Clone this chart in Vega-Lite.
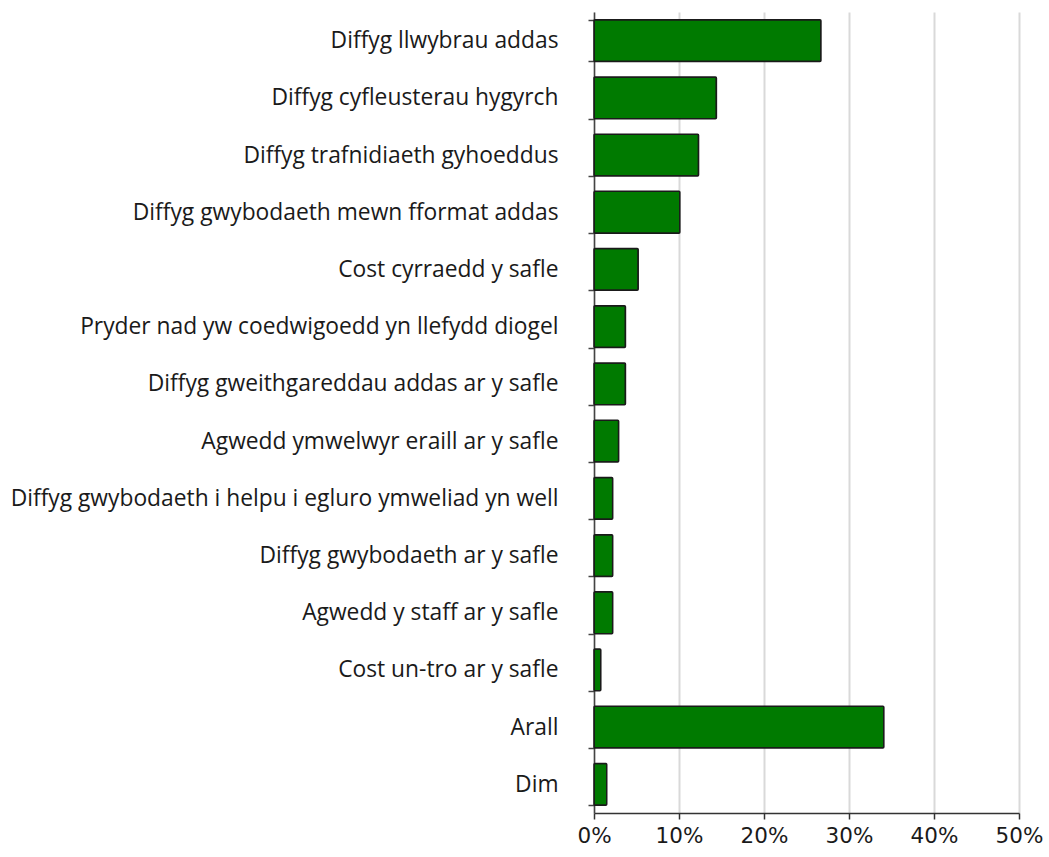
{
  "$schema": "https://vega.github.io/schema/vega-lite/v6.json",
  "autosize": {"type": "none"},
  "width": 425,
  "height": 801,
  "padding": {"left": 594, "top": 12, "right": 30, "bottom": 44},
  "background": "white",
  "data": {
    "values": [
      {"category": "Diffyg llwybrau addas", "value": 0.267},
      {"category": "Diffyg cyfleusterau hygyrch", "value": 0.144},
      {"category": "Diffyg trafnidiaeth gyhoeddus", "value": 0.123},
      {"category": "Diffyg gwybodaeth mewn fformat addas", "value": 0.101},
      {"category": "Cost cyrraedd y safle", "value": 0.052},
      {"category": "Pryder nad yw coedwigoedd yn llefydd diogel", "value": 0.037},
      {"category": "Diffyg gweithgareddau addas ar y safle", "value": 0.037},
      {"category": "Agwedd ymwelwyr eraill ar y safle", "value": 0.029},
      {"category": "Diffyg gwybodaeth i helpu i egluro ymweliad yn well", "value": 0.022},
      {"category": "Diffyg gwybodaeth ar y safle", "value": 0.022},
      {"category": "Agwedd y staff ar y safle", "value": 0.022},
      {"category": "Cost un-tro ar y safle", "value": 0.008},
      {"category": "Arall", "value": 0.341},
      {"category": "Dim", "value": 0.015}
    ]
  },
  "mark": {"type": "bar", "color": "#007A00", "stroke": "#1a1a1a", "strokeWidth": 1.5, "cornerRadius": 1},
  "encoding": {
    "y": {
      "field": "category",
      "type": "nominal",
      "sort": null,
      "scale": {"paddingInner": 0.27, "paddingOuter": 0.135},
      "axis": {
        "title": null,
        "labelFont": "Open Sans",
        "labelFontSize": 22.8,
        "labelColor": "#1a1a1a",
        "labelLimit": 700,
        "labelPadding": 30,
        "tickBand": "extent",
        "tickSize": 6,
        "tickColor": "#444",
        "tickWidth": 1.5,
        "domainColor": "#444",
        "domainWidth": 1.5,
        "grid": false
      }
    },
    "x": {
      "field": "value",
      "type": "quantitative",
      "scale": {"domain": [0, 0.5], "nice": false},
      "axis": {
        "title": null,
        "format": ".0%",
        "values": [0, 0.1, 0.2, 0.3, 0.4, 0.5],
        "labelFont": "DejaVu Sans",
        "labelFontSize": 21.5,
        "labelColor": "#1a1a1a",
        "labelPadding": 6,
        "labelFlush": false,
        "labelOverlap": false,
        "tickSize": 6,
        "tickColor": "#333",
        "tickWidth": 1.5,
        "domainColor": "#333",
        "domainWidth": 1.5,
        "grid": true,
        "gridColor": "#d9d9d9",
        "gridWidth": 2
      }
    }
  },
  "config": {"view": {"stroke": null}}
}
